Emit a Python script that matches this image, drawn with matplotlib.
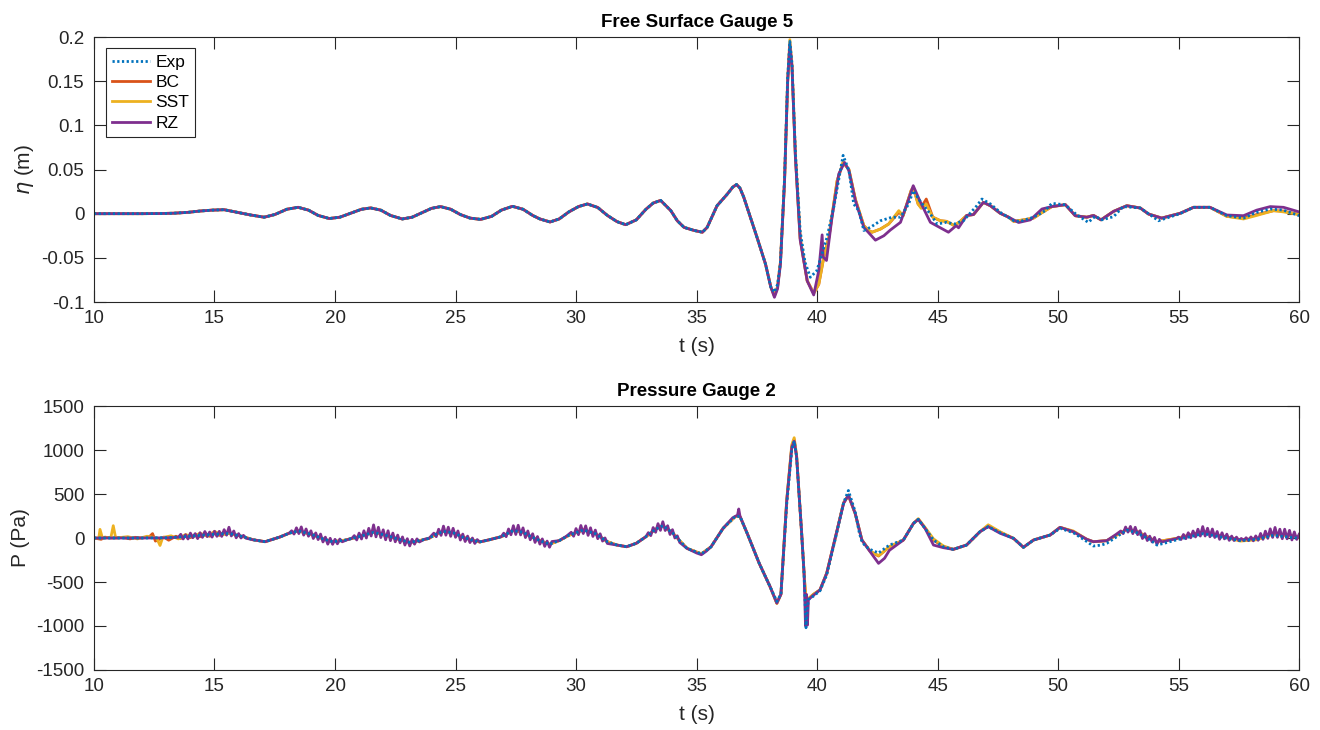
import numpy as np
import matplotlib.pyplot as plt

plt.rcParams['font.family'] = ['Liberation Sans', 'DejaVu Sans']
plt.rcParams['axes.unicode_minus'] = False

# colours (matlab default order)
c_exp = '#0072BD'
c_bc = '#D95319'
c_sst = '#EDB120'
c_rz = '#7E2F8E'

# ---------------- free surface gauge 5 ----------------
# early part, all four runs lie on top of each other
eta_t_early = [10.0, 11.0, 12.0, 12.8, 13.3, 13.9, 14.4, 14.9, 15.4, 15.96,
               16.5, 17.06, 17.5, 18.0, 18.47, 18.9, 19.3, 19.76, 20.2, 20.7,
               21.1, 21.48, 21.9, 22.3, 22.79, 23.2, 23.6, 24.0, 24.38, 24.8,
               25.2, 25.6, 26.04, 26.5, 26.9, 27.36, 27.8, 28.2, 28.5, 28.92,
               29.3, 29.7, 30.1, 30.47, 30.9, 31.3, 31.7, 32.06, 32.5, 32.9,
               33.2, 33.51, 33.93, 34.2, 34.48, 34.9, 35.24, 35.44, 35.85, 36.27,
               36.5, 36.66, 36.8, 36.96, 37.51, 37.86, 38.08]
eta_early = [0.0, 0.0, 0.0, 0.0002, 0.0005, 0.0015, 0.003, 0.004, 0.0045, 0.0015,
             -0.0015, -0.004, -0.001, 0.005, 0.0072, 0.004, -0.002, -0.0055, -0.004, 0.001,
             0.005, 0.0065, 0.004, -0.002, -0.006, -0.004, 0.001, 0.006, 0.008, 0.005,
             -0.001, -0.005, -0.0065, -0.003, 0.004, 0.0083, 0.005, -0.002, -0.006, -0.0094,
             -0.006, 0.002, 0.008, 0.011, 0.007, -0.002, -0.009, -0.0125, -0.007, 0.005,
             0.012, 0.015, 0.0035, -0.008, -0.0155, -0.019, -0.021, -0.0155, 0.009, 0.022,
             0.030, 0.033, 0.029, 0.0185, -0.027, -0.057, -0.083]

eta_t_exp = [38.23, 38.36, 38.48, 38.65, 38.78, 38.87, 38.96, 39.10, 39.30, 39.50, 39.72,
             39.99, 40.41, 40.69, 41.08, 41.32, 41.52, 41.73, 41.94, 42.21, 42.63,
             43.11, 43.46, 43.80, 43.99, 44.26, 44.70, 44.98, 45.37, 45.70, 46.07,
             46.63, 46.84, 47.19, 47.60, 48.16, 48.43, 48.98, 49.19, 49.46, 49.74,
             50.30, 50.76, 51.25, 51.54, 51.82, 52.30, 52.70, 53.41, 53.96, 54.16,
             54.50, 55.06, 55.62, 56.30, 57.00, 57.69, 58.24, 58.80, 59.35, 60.0]
eta_exp = [-0.089, -0.08, -0.055, 0.04, 0.155, 0.195, 0.17, 0.07, -0.02, -0.055, -0.072,
           -0.0645, -0.027, 0.007, 0.066, 0.049, 0.011, 0.0034, -0.019, -0.0155, -0.008,
           -0.004, -0.004, 0.011, 0.026, 0.0147, -0.0004, -0.0117, -0.0098, -0.0117, -0.008,
           0.009, 0.0166, 0.011, 0.0015, -0.008, -0.0087, -0.004, -0.001, 0.0034, 0.0117,
           0.010, -0.001, -0.0098, -0.003, -0.007, -0.0034, 0.008, 0.0064, -0.004, -0.008,
           -0.005, 0.0, 0.0072, 0.0072, -0.0023, -0.005, 0.0015, 0.0053, 0.004, -0.0023]

eta_t_bc = [38.23, 38.36, 38.48, 38.65, 38.78, 38.87, 38.96, 39.10, 39.30, 39.59, 39.86,
            40.07, 40.28, 40.49, 40.83, 41.08, 41.32, 41.59, 41.94, 42.14, 42.28,
            42.63, 42.97, 43.39, 43.57, 43.90, 43.99, 44.19, 44.32, 44.53, 44.80,
            45.12, 45.37, 45.70, 45.94, 46.21, 46.49, 46.90, 47.19, 47.60, 47.95,
            48.16, 48.57, 48.98, 49.26, 49.74, 50.30, 50.71, 51.19, 51.47, 51.78,
            52.30, 52.85, 53.41, 53.75, 54.30, 55.06, 55.62, 56.30, 57.00, 57.69,
            58.24, 58.94, 59.35, 60.0]
eta_bc = [-0.093, -0.083, -0.055, 0.037, 0.15, 0.19, 0.166, 0.066, -0.028, -0.076, -0.090,
          -0.080, -0.049, -0.027, 0.037, 0.058, 0.05, 0.016, -0.0136, -0.019, -0.021,
          -0.0174, -0.0117, 0.0015, -0.0023, 0.026, 0.030, 0.011, 0.007, 0.0166, -0.004,
          -0.008, -0.0087, -0.0136, -0.0087, -0.002, -0.001, 0.0128, 0.009, 0.0004, -0.004,
          -0.0087, -0.007, -0.005, 0.0, 0.008, 0.0102, -0.0023, -0.004, -0.002, -0.007,
          0.0026, 0.009, 0.0064, -0.0004, -0.005, 0.0004, 0.0072, 0.0072, -0.003, -0.005,
          -0.001, 0.0034, 0.003, -0.001]

eta_t_sst = eta_t_bc
eta_sst = [-0.093, -0.083, -0.055, 0.037, 0.152, 0.197, 0.168, 0.066, -0.028, -0.076, -0.090,
           -0.080, -0.049, -0.027, 0.037, 0.058, 0.05, 0.016, -0.0136, -0.019, -0.021,
           -0.0174, -0.0117, 0.0034, -0.0023, 0.026, 0.030, 0.011, 0.006, 0.011, -0.004,
           -0.008, -0.0087, -0.0136, -0.0087, -0.002, -0.001, 0.0128, 0.009, 0.0004, -0.004,
           -0.0087, -0.007, -0.005, 0.0, 0.008, 0.0102, -0.0023, -0.004, -0.002, -0.007,
           0.0026, 0.009, 0.0064, -0.0004, -0.005, 0.0004, 0.0072, 0.0072, -0.003, -0.006,
           -0.002, 0.0034, 0.002, -0.001]

eta_t_rz = [38.23, 38.36, 38.48, 38.65, 38.78, 38.87, 38.96, 39.10, 39.30, 39.59, 39.86,
            40.07, 40.21, 40.25, 40.39, 40.62, 40.90, 41.14, 41.32, 41.59, 41.94,
            42.42, 42.77, 43.04, 43.46, 43.73, 43.99, 44.26, 44.70, 45.12, 45.45,
            45.77, 45.87, 46.21, 46.49, 46.90, 47.19, 47.60, 47.95, 48.36, 48.85,
            49.33, 49.74, 50.30, 50.71, 51.19, 51.47, 51.78, 52.30, 52.85, 53.41,
            53.75, 54.30, 55.06, 55.62, 56.30, 57.00, 57.69, 58.24, 58.80, 59.35,
            60.0]
eta_rz = [-0.0947, -0.085, -0.057, 0.037, 0.15, 0.192, 0.166, 0.064, -0.03, -0.076, -0.092,
          -0.0645, -0.024, -0.049, -0.053, -0.004, 0.045, 0.058, 0.0487, 0.0147, -0.0155,
          -0.030, -0.025, -0.0185, -0.0098, 0.011, 0.0317, 0.0147, -0.0098, -0.016, -0.021,
          -0.0136, -0.016, -0.002, -0.001, 0.0128, 0.009, 0.0004, -0.004, -0.010, -0.007,
          0.0053, 0.008, 0.0102, -0.0023, -0.004, -0.002, -0.007, 0.0026, 0.009, 0.0064,
          -0.0004, -0.005, 0.0004, 0.0072, 0.0072, -0.0015, -0.0023, 0.004, 0.008, 0.0072,
          0.002]

# ---------------- pressure gauge 2 ----------------
p_t_exp_early = [10.0, 12.0, 13.0, 13.6, 14.3, 15.0, 15.6]
p_exp_early = [0, 0, 3, 12, 28, 42, 52]

p_t_bc_early = [10.0, 10.3, 10.45, 10.7, 11.2, 11.5, 11.7, 12.0, 12.3, 12.43,
                12.55, 12.9, 13.1, 13.4, 13.6, 13.8, 14.0, 14.2, 14.4, 14.6,
                14.8, 15.0, 15.2, 15.4, 15.6]
p_bc_early = [0, -15, 10, 0, 5, -10, 8, 0, 15, 50,
              -35, 10, -25, 20, -5, 30, 5, 40, 15, 55,
              20, 60, 30, 70, 52]

p_t_sst_early = [10.0, 10.2, 10.25, 10.35, 10.7, 10.8, 10.9, 11.4, 11.8, 12.2,
                 12.6, 12.74, 12.85, 13.2, 13.5, 13.8, 14.1, 14.4, 14.7, 15.0,
                 15.3, 15.6]
p_sst_early = [0, 0, 98, 0, 5, 140, 0, 15, -10, 20,
               0, -85, 5, 25, -10, 40, 10, 55, 20, 75,
               35, 52]

# smooth middle part shared by Exp, BC and SST
p_t_mid = [16.2, 16.6, 17.1, 17.7, 18.1, 18.5, 19.1, 19.5, 19.9, 20.4,
           20.9, 21.3, 21.6, 21.9, 22.3, 22.7, 23.1, 23.5, 23.9, 24.2,
           24.5, 24.9, 25.3, 25.7, 26.0, 26.4, 26.9, 27.4, 27.8, 28.1,
           28.5, 28.9, 29.3, 29.7, 30.3, 30.8, 31.3, 31.7, 32.1, 32.5,
           32.9, 33.3, 33.6, 34.0, 34.3, 34.6, 35.2, 35.6, 36.1, 36.6,
           36.8, 37.1, 37.6]
p_mid = [15, -20, -42, 10, 55, 80, 34, -10, -42, -25,
         8, 40, 64, 45, 15, -20, -50, -30, -4, 45,
         75, 60, 10, -25, -45, -20, 15, 85, 65, 20,
         -30, -70, -30, 30, 91, 50, -42, -80, -99, -60,
         15, 100, 140, 60, -30, -117, -180, -100, 110, 243,
         245, 53, -288]

p_t_exp_late = [38.05, 38.33, 38.5, 38.74, 38.95, 39.05, 39.15, 39.36, 39.46, 39.54,
                39.6, 39.64, 39.85, 40.12, 40.4, 40.8, 41.1, 41.3, 41.58, 41.75,
                41.86, 42.0, 42.2, 42.55, 43.0, 43.58, 44.0, 44.2, 44.48, 44.83,
                45.24, 45.65, 46.2, 46.76, 47.1, 47.6, 48.15, 48.56, 48.98, 49.67,
                50.08, 50.63, 51.19, 51.46, 51.8, 52.02, 52.85, 53.26, 53.82, 54.1,
                54.4, 54.93, 56.03, 56.58, 57.55, 58.24, 58.93, 59.9, 60.0]
p_exp_late = [-553, -720, -640, 380, 1000, 1100, 925, 53, -400, -1020,
              -800, -700, -660, -600, -420, 40, 400, 540, 300, 60,
              -40, -90, -130, -170, -80, -23, 167, 212, 110, -23,
              -99, -129, -80, 72, 129, 60, -4, -106, -23, 34,
              110, 60, -40, -91, -80, -60, 90, 60, -20, -80,
              -60, -20, 50, 20, -30, -15, 30, 0, -10]

p_t_bc_late = [38.05, 38.33, 38.5, 38.74, 38.95, 39.05, 39.15, 39.36, 39.46, 39.54,
               39.64, 39.85, 40.12, 40.4, 40.8, 41.1, 41.3, 41.58, 41.86, 42.2,
               42.55, 43.0, 43.58, 44.0, 44.2, 44.48, 44.83, 45.24, 45.65, 46.2,
               46.76, 47.1, 47.6, 48.15, 48.56, 48.98, 49.67, 50.08, 50.63, 51.19,
               51.46, 52.02, 52.85, 53.26, 53.82, 54.1, 54.93, 56.03, 56.58, 57.55,
               58.24, 58.93, 59.9, 60.0]
p_bc_late = [-553, -740, -640, 420, 1040, 1120, 930, 53, -400, -720,
             -690, -640, -590, -400, 53, 400, 480, 280, -23, -150,
             -205, -100, -23, 167, 212, 110, -23, -99, -129, -80,
             72, 135, 65, -4, -106, -23, 34, 121, 72, -15,
             -42, -30, 99, 72, -4, -42, -4, 72, 34, -20,
             -5, 53, 15, 10]

p_t_sst_late = p_t_bc_late
p_sst_late = [-553, -745, -640, 430, 1060, 1140, 940, 53, -400, -720,
              -690, -640, -590, -400, 53, 400, 490, 280, -23, -150,
              -200, -100, -23, 167, 220, 120, -10, -90, -129, -80,
              72, 150, 70, -4, -106, -23, 34, 121, 80, -15,
              -42, -30, 99, 80, -4, -42, -4, 72, 34, -35,
              -20, 45, 15, 10]

# RZ pressure: smooth stretches
p_t_rz_smooth = [10.0, 11.0, 12.0, 13.0, 13.5,
                 16.6, 17.1, 17.7, 18.1,
                 20.5, 20.7,
                 23.7, 23.9,
                 26.0, 26.4, 26.9,
                 29.3, 29.6,
                 31.7, 32.1, 32.5, 32.9,
                 34.6, 35.0, 35.2, 35.4, 35.6, 36.1, 36.5, 36.7, 36.75, 36.8,
                 37.1, 37.6, 38.05, 38.33, 38.5, 38.74, 38.95, 39.05, 39.15, 39.36,
                 39.46, 39.52, 39.56, 39.6, 39.64, 39.85, 40.12, 40.4, 40.8, 41.1,
                 41.3, 41.58, 41.86, 42.2, 42.55, 42.8, 43.0, 43.58, 44.0, 44.2,
                 44.48, 44.83, 45.24, 45.65, 46.2, 46.76, 47.1, 47.6, 48.15, 48.56,
                 48.98, 49.67, 50.08, 50.63, 51.19, 51.46, 52.02, 52.4,
                 54.6, 54.9]
p_rz_smooth = [0, 0, 0, 2, 8,
               -20, -42, 10, 55,
               -20, -4,
               -15, -4,
               -45, -20, 15,
               -30, 20,
               -80, -99, -60, 15,
               -117, -170, -190, -150, -100, 110, 230, 260, 330, 250,
               53, -288, -553, -740, -640, 420, 1030, 1100, 925, 53,
               -400, -1000, -640, -990, -700, -650, -590, -400, 53, 394,
               489, 280, -23, -155, -288, -230, -140, -23, 167, 212,
               110, -80, -110, -129, -80, 72, 129, 53, -4, -106,
               -23, 34, 121, 72, -15, -42, -30, 40,
               -25, -8]

# RZ pressure: noisy stretches, read every 0.1 s (start, end, values)
rz_noise_a = (13.6, 16.3, [42, -11, 37, -11, 56, 3, 50, -7, 60, 7, 74, 16, 68, 10,
                           77, 19, 76, 18, 95, 32, 122, 23, 80, 2, 50, 0, 30, -2])
rz_noise_b = (18.2, 20.3, [82, 45, 116, 50, 126, 33, 103, 20, 82, -6, 58, -18, 45, -45,
                           10, -70, -3, -72, -15, -66, -12, -43])
rz_noise_c = (20.8, 23.5, [27, -22, 56, -11, 82, 0, 110, 23, 149, 13, 122, 5, 93, -20,
                           82, -30, 56, -43, 33, -55, 12, -80, -8, -90, -15, -70, -10, -45])
rz_noise_d = (24.1, 25.9, [55, 15, 100, 30, 135, 32, 123, 19, 110, 8, 80, -23, 45, -40,
                           22, -52, 0, -62, -18])
rz_noise_e = (27.0, 29.0, [55, 15, 103, 37, 140, 40, 145, 35, 115, 5, 80, -20, 48, -50,
                           17, -70, -10, -95, -35, -105, -40])
rz_noise_f = (29.8, 31.3, [65, 20, 107, 38, 142, 51, 138, 30, 116, 18, 90, -8, 48, -35,
                           1, -62])
rz_noise_g = (33.0, 34.3, [61, 27, 119, 65, 163, 87, 185, 85, 140, 40, 95, 0, 25, -50])
rz_noise_h = (52.6, 54.3, [80, 50, 125, 67, 132, 50, 122, 38, 83, -6, 50, -29, 21, -45,
                           7, -72, -15, -45])
rz_noise_i = (55.0, 60.0, [10, -17, 40, -8, 60, 2, 80, 12, 100, 22, 130, 23, 111, 14,
                           102, 6, 74, -15, 60, -10, 44, -27, 22, -29, 10, -29, -5, -29,
                           3, -30, 12, -32, 24, -26, 52, -15, 78, -4, 104, 7, 120, 8,
                           100, -8, 100, -9, 87, -22, 69, -16, 43])

rz_t = list(p_t_rz_smooth)
rz_v = list(p_rz_smooth)
for t0, t1, vals in (rz_noise_a, rz_noise_b, rz_noise_c, rz_noise_d, rz_noise_e,
                     rz_noise_f, rz_noise_g, rz_noise_h, rz_noise_i):
    rz_t += list(np.linspace(t0, t1, len(vals)))
    rz_v += vals
order = np.argsort(rz_t)
rz_t = np.array(rz_t)[order]
rz_v = np.array(rz_v)[order]

# ---------------- figure ----------------
fig = plt.figure(figsize=(13.2, 7.3), dpi=100)
ax1 = fig.add_axes([0.0712, 0.5863, 0.913, 0.363])
ax2 = fig.add_axes([0.0712, 0.0822, 0.913, 0.3616])

lw = 2.0
dots = (0, (0.8, 0.9))

h_bc, = ax1.plot(eta_t_early + eta_t_bc, eta_early + eta_bc, color=c_bc, lw=lw, label='BC')
h_sst, = ax1.plot(eta_t_early + eta_t_sst, eta_early + eta_sst, color=c_sst, lw=lw, label='SST')
h_rz, = ax1.plot(eta_t_early + eta_t_rz, eta_early + eta_rz, color=c_rz, lw=lw, label='RZ')
h_exp, = ax1.plot(eta_t_early + eta_t_exp, eta_early + eta_exp, color=c_exp, lw=lw,
                  linestyle=dots, dash_capstyle='butt', label='Exp')

ax2.plot(p_t_bc_early + p_t_mid + p_t_bc_late, p_bc_early + p_mid + p_bc_late, color=c_bc, lw=lw)
ax2.plot(p_t_sst_early + p_t_mid + p_t_sst_late, p_sst_early + p_mid + p_sst_late, color=c_sst, lw=lw)
ax2.plot(rz_t, rz_v, color=c_rz, lw=lw)
ax2.plot(p_t_exp_early + p_t_mid + p_t_exp_late, p_exp_early + p_mid + p_exp_late, color=c_exp,
         lw=lw, linestyle=dots, dash_capstyle='butt')

leg = ax1.legend(handles=[h_exp, h_bc, h_sst, h_rz], loc='upper left',
                 bbox_to_anchor=(0.0097, 0.957), borderaxespad=0, fontsize=12.5,
                 fancybox=False, framealpha=1, edgecolor='#262626',
                 handlelength=2.2, handletextpad=0.3, labelspacing=0.3, borderpad=0.35)
leg.get_frame().set_linewidth(0.8)

xt = [10, 15, 20, 25, 30, 35, 40, 45, 50, 55, 60]
eta_ticks = [-0.1, -0.05, 0, 0.05, 0.1, 0.15, 0.2]
eta_ticklabels = ['-0.1', '-0.05', '0', '0.05', '0.1', '0.15', '0.2']
p_ticks = [-1500, -1000, -500, 0, 500, 1000, 1500]

for ax in (ax1, ax2):
    ax.set_xlim(10, 60)
    ax.set_xticks(xt)
    ax.tick_params(direction='in', top=True, right=True, length=8.5, width=0.8,
                   colors='#262626', labelsize=13.5)
    ax.tick_params(axis='x', pad=6)
    ax.tick_params(axis='y', pad=7)
    for s in ax.spines.values():
        s.set_color('#262626')
        s.set_linewidth(0.8)
    ax.set_xlabel('t (s)', fontsize=15, color='#262626', labelpad=7)

ax1.set_ylim(-0.1, 0.2)
ax1.set_yticks(eta_ticks)
ax1.set_yticklabels(eta_ticklabels)
ax1.set_ylabel(r'$\eta$ (m)', fontsize=15, color='#262626', labelpad=4)
ax1.set_title('Free Surface Gauge 5', fontsize=13.5, fontweight='bold', pad=7)

ax2.set_ylim(-1500, 1500)
ax2.set_yticks(p_ticks)
ax2.set_yticklabels([str(v) for v in p_ticks])
ax2.set_ylabel('P (Pa)', fontsize=15, color='#262626', labelpad=4)
ax2.set_title('Pressure Gauge 2', fontsize=13.5, fontweight='bold', pad=7)

fig.savefig('out.png', dpi=100)
